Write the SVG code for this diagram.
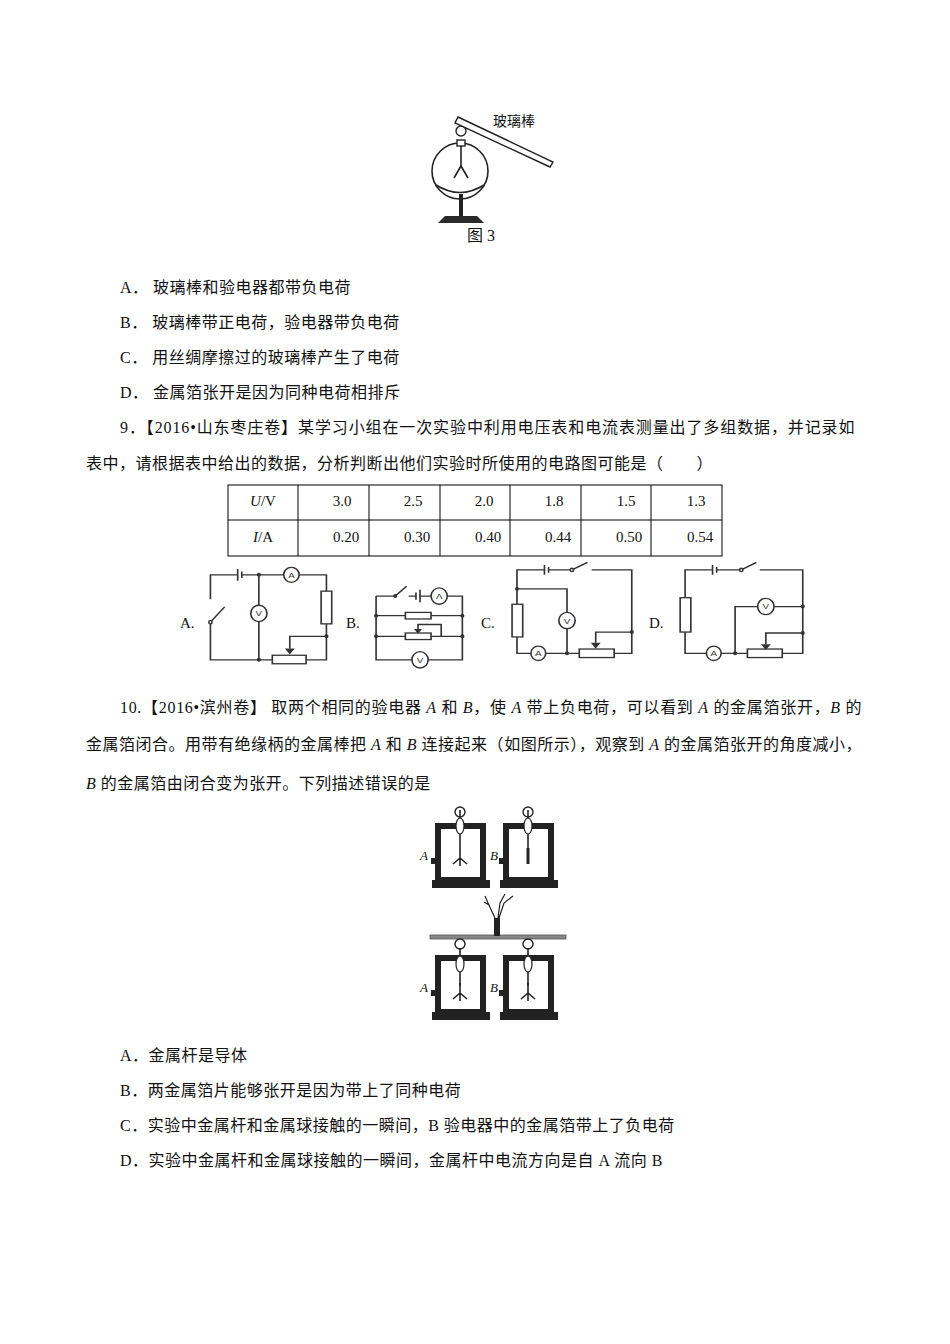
<svg xmlns="http://www.w3.org/2000/svg" width="950" height="1344" viewBox="0 0 950 1344">
<style>
text{font-family:"Liberation Serif","Noto Sans CJK SC",serif;font-size:15px;fill:#111}
.b{font-size:16px;letter-spacing:0.5px}
.w{fill:none;stroke:#222;stroke-width:1.6}
.m{fill:#fff;stroke:#222;stroke-width:1.4}
.cw{fill:none;stroke:#333;stroke-width:4}
.cm{fill:#fff;stroke:#333;stroke-width:4}
.ct{font-family:"Liberation Sans",sans-serif;font-size:24px;text-anchor:middle;fill:#333}
.t{fill:none;stroke:#000;stroke-width:1}
.k{fill:#2a2a2a}
.i{font-style:italic}
</style>
<defs>
<g id="box">
<rect x="3" y="3" width="45" height="54" fill="none" stroke="#222" stroke-width="6"/>
<rect x="-3" y="57" width="58" height="8" fill="#222"/>
<rect x="-4" y="35" width="4" height="6" fill="#222"/>
</g>
<g id="knob">
<line x1="0" y1="-10" x2="0" y2="28" stroke="#222" stroke-width="1.6"/>
<ellipse cx="0" cy="6" rx="4" ry="8" fill="#fff" stroke="#222" stroke-width="1.2"/>
</g>
<g id="leaves"><path d="M0 28V38M0 38L-7 44M0 38L7 44M0 38V46" fill="none" stroke="#222" stroke-width="1.6"/></g>
</defs>
<rect width="950" height="1344" fill="#fff"/>
<g id="fig3">
<circle cx="460" cy="171" r="28" class="w" stroke-width="2.2"/>
<path d="M436 185 Q460 200 484 185" class="w" stroke-width="3.5"/>
<line x1="461" y1="194" x2="461" y2="216" stroke="#222" stroke-width="4"/>
<path d="M438 223 L484 223 L477 216 L445 216 Z" class="k"/>
<rect x="457" y="140" width="8" height="6" class="m"/>
<line x1="461" y1="146" x2="461" y2="168" class="w"/>
<path d="M461 166 L454 178 M461 166 L468 178" class="w"/>
<circle cx="461" cy="131" r="5" class="m"/>
<path d="M458 117 L553 162 L550 167 L455 123 Z" class="m"/>
<text x="493" y="126" style="font-size:14px">玻璃棒</text>
<text x="467" y="241" style="font-size:16px">图 3</text>
</g>
<g id="q8" class="b">
<text x="120" y="293" class="b">A． 玻璃棒和验电器都带负电荷</text>
<text x="120" y="328" class="b">B． 玻璃棒带正电荷，验电器带负电荷</text>
<text x="120" y="363" class="b">C． 用丝绸摩擦过的玻璃棒产生了电荷</text>
<text x="120" y="398" class="b">D． 金属箔张开是因为同种电荷相排斥</text>
</g>
<g id="q9">
<text x="120" y="433" class="b" textLength="735" lengthAdjust="spacing">9．【2016•山东枣庄卷】某学习小组在一次实验中利用电压表和电流表测量出了多组数据，并记录如</text>
<text x="86" y="469" class="b">表中，请根据表中给出的数据，分析判断出他们实验时所使用的电路图可能是（　　）</text>
</g>
<g id="table">
<rect x="228" y="485" width="494" height="71" class="t"/>
<line x1="228" y1="520" x2="722" y2="520" class="t"/>
<path d="M298 485V556M369 485V556M440 485V556M510 485V556M581 485V556M651 485V556" class="t"/>
<text x="263" y="506" text-anchor="middle"><tspan class="i">U</tspan>/V</text>
<text x="263" y="542" text-anchor="middle"><tspan class="i">I</tspan>/A</text>
<g text-anchor="middle">
<text x="342" y="506">3.0</text><text x="413" y="506">2.5</text><text x="484" y="506">2.0</text><text x="554" y="506">1.8</text><text x="626" y="506">1.5</text><text x="696" y="506">1.3</text>
<text x="346" y="542">0.20</text><text x="417" y="542">0.30</text><text x="488" y="542">0.40</text><text x="558" y="542">0.44</text><text x="629" y="542">0.50</text><text x="700" y="542">0.54</text>
</g>
</g>
<g id="circuitA">
<text x="180" y="628">A.</text>
<g transform="translate(197,565) scale(0.407,0.327)">
<path class="cw" d="M33 105V30H100M110 30H213M250 30H318V80M318 180V290H268M185 290H33V175M152 30V123M152 173V290M318 218H228V255"/>
<path class="cw" d="M100 12V48M110 20V40" stroke-width="6"/>
<line class="cw" x1="33" y1="175" x2="68" y2="128"/>
<ellipse cx="33" cy="175" rx="4" ry="5" class="cm" stroke-width="3"/>
<rect x="305" y="80" width="26" height="100" class="cm"/>
<rect x="185" y="276" width="83" height="26" class="cm"/>
<path d="M216 255H240L228 274Z" fill="#333"/>
<ellipse cx="232" cy="30" rx="19" ry="23" class="cm"/><text x="232" y="39" class="ct">A</text>
<ellipse cx="152" cy="148" rx="20" ry="25" class="cm"/><text x="152" y="157" class="ct">V</text>
<ellipse cx="152" cy="30" rx="5" ry="6" fill="#333"/><ellipse cx="152" cy="290" rx="5" ry="6" fill="#333"/><ellipse cx="318" cy="218" rx="5" ry="6" fill="#333"/>
</g>
</g>
<g id="circuitB">
<text x="346" y="628">B.</text>
<g transform="translate(197,565) scale(0.407,0.327)">
<path class="cw" d="M440 95H487M520 95H538M546 95H575M615 95H652V290H568M528 290H440V95M440 155H512M575 155H652M440 218H512M575 218H600V182H543V200M600 218H652"/>
<line class="cw" x1="487" y1="95" x2="515" y2="65"/>
<path class="cw" d="M538 84V106M548 76V114" stroke-width="6"/>
<ellipse cx="487" cy="95" rx="5" ry="6" fill="#333"/>
<rect x="512" y="145" width="63" height="20" class="cm"/>
<rect x="512" y="208" width="63" height="20" class="cm"/>
<path d="M533 196H553L543 210Z" fill="#333"/>
<ellipse cx="595" cy="95" rx="20" ry="25" class="cm"/><text x="595" y="104" class="ct">Λ</text>
<ellipse cx="548" cy="290" rx="20" ry="25" class="cm"/><text x="548" y="299" class="ct">V</text>
<ellipse cx="440" cy="155" rx="5" ry="6" fill="#333"/><ellipse cx="440" cy="218" rx="5" ry="6" fill="#333"/><ellipse cx="652" cy="155" rx="5" ry="6" fill="#333"/><ellipse cx="652" cy="218" rx="5" ry="6" fill="#333"/>
</g>
</g>
<g id="circuitC">
<text x="481" y="628">C.</text>
<g transform="translate(198,565) scale(0.41,0.327)">
<path class="cw" d="M778 120V15H845M855 15H912M960 15H1058V270H1015M930 270H848M812 270H778V220M778 73H900V145M900 195V270M1058 205H970V238"/>
<path class="cw" d="M845 0V30M855 6V24" stroke-width="6"/>
<line class="cw" x1="912" y1="15" x2="950" y2="-8"/>
<ellipse cx="912" cy="15" rx="4" ry="5" class="cm" stroke-width="3"/>
<rect x="766" y="120" width="26" height="100" class="cm"/>
<rect x="930" y="257" width="85" height="26" class="cm"/>
<path d="M958 238H982L970 256Z" fill="#333"/>
<ellipse cx="830" cy="270" rx="18" ry="22" class="cm"/><text x="830" y="279" class="ct">A</text>
<ellipse cx="900" cy="170" rx="20" ry="25" class="cm"/><text x="900" y="179" class="ct">V</text>
<ellipse cx="778" cy="73" rx="5" ry="6" fill="#333"/><ellipse cx="900" cy="270" rx="5" ry="6" fill="#333"/><ellipse cx="1058" cy="205" rx="5" ry="6" fill="#333"/>
</g>
</g>
<g id="circuitD">
<text x="649" y="628">D.</text>
<g transform="translate(198,565) scale(0.41,0.327)">
<path class="cw" d="M1188 100V15H1255M1265 15H1325M1370 15H1475V270H1425M1340 270H1276M1240 270H1188V205M1310 270V127H1365M1405 127H1475M1475 208H1385V242"/>
<path class="cw" d="M1255 0V30M1265 6V24" stroke-width="6"/>
<line class="cw" x1="1325" y1="15" x2="1362" y2="-8"/>
<ellipse cx="1325" cy="15" rx="4" ry="5" class="cm" stroke-width="3"/>
<rect x="1176" y="100" width="26" height="105" class="cm"/>
<rect x="1340" y="257" width="85" height="26" class="cm"/>
<path d="M1373 242H1397L1385 260Z" fill="#333"/>
<ellipse cx="1258" cy="270" rx="18" ry="22" class="cm"/><text x="1258" y="279" class="ct">A</text>
<ellipse cx="1385" cy="127" rx="20" ry="25" class="cm"/><text x="1385" y="136" class="ct">V</text>
<ellipse cx="1310" cy="270" rx="5" ry="6" fill="#333"/><ellipse cx="1475" cy="127" rx="5" ry="6" fill="#333"/><ellipse cx="1475" cy="208" rx="5" ry="6" fill="#333"/>
</g>
</g>
<g id="q10">
<text x="120" y="713" class="b" textLength="742" lengthAdjust="spacing">10.【2016•滨州卷】 取两个相同的验电器 <tspan class="i">A</tspan> 和 <tspan class="i">B</tspan>，使 <tspan class="i">A</tspan> 带上负电荷，可以看到 <tspan class="i">A</tspan> 的金属箔张开，<tspan class="i">B</tspan> 的</text>
<text x="86" y="750" class="b" textLength="776" lengthAdjust="spacing">金属箔闭合。用带有绝缘柄的金属棒把 <tspan class="i">A</tspan> 和 <tspan class="i">B</tspan> 连接起来（如图所示），观察到 <tspan class="i">A</tspan> 的金属箔张开的角度减小，</text>
<text x="86" y="789" class="b"><tspan class="i">B</tspan> 的金属箔由闭合变为张开。下列描述错误的是</text>
</g>
<g id="scopeA1">
<use href="#box" x="435" y="823"/>
<circle cx="460" cy="812" r="5" class="m"/>
<use href="#knob" x="460" y="820"/>
<use href="#leaves" x="460" y="820"/>
<text x="420" y="860" class="i" style="font-size:13px">A</text>
</g>
<g id="scopeB1">
<use href="#box" x="503" y="823"/>
<circle cx="528" cy="812" r="5" class="m"/>
<use href="#knob" x="528" y="820"/>
<line x1="528" y1="848" x2="528" y2="864" stroke="#222" stroke-width="3"/>
<text x="490" y="860" class="i" style="font-size:13px">B</text>
</g>
<g id="rod">
<rect x="430" y="935" width="136" height="4" fill="#888" stroke="#555" stroke-width="0.8"/>
<rect x="494" y="918" width="6" height="18" fill="#222"/>
<path d="M495 918L488 903L485 896M489 905L484 902M498 918L500 903L505 894M499 918L504 903L513 896" fill="none" stroke="#222" stroke-width="1.2"/>
</g>
<g id="scopeA2">
<use href="#box" x="435" y="955"/>
<circle cx="460" cy="944" r="5" class="m"/>
<use href="#knob" x="460" y="958"/>
<use href="#leaves" x="460" y="955"/>
<text x="420" y="992" class="i" style="font-size:13px">A</text>
</g>
<g id="scopeB2">
<use href="#box" x="503" y="955"/>
<circle cx="528" cy="944" r="5" class="m"/>
<use href="#knob" x="528" y="958"/>
<use href="#leaves" x="528" y="955"/>
<text x="490" y="992" class="i" style="font-size:13px">B</text>
</g>
<g id="q10opts">
<text x="120" y="1061" class="b">A．金属杆是导体</text>
<text x="120" y="1096" class="b">B．两金属箔片能够张开是因为带上了同种电荷</text>
<text x="120" y="1131" class="b">C．实验中金属杆和金属球接触的一瞬间，B 验电器中的金属箔带上了负电荷</text>
<text x="120" y="1166" class="b">D．实验中金属杆和金属球接触的一瞬间，金属杆中电流方向是自 A 流向 B</text>
</g>
</svg>
